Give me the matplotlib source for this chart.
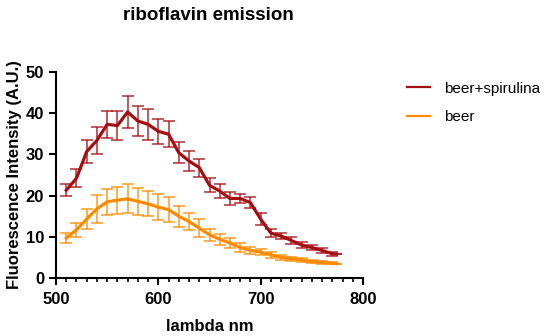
import numpy as np
import matplotlib
matplotlib.use("Agg")
import matplotlib.pyplot as plt
from matplotlib.ticker import MultipleLocator

plt.rcParams['font.family'] = ['Liberation Sans', 'DejaVu Sans']

# wavelengths (nm)
wavelength = [510, 520, 530, 540, 550, 560, 570, 580, 590, 600,
              610, 620, 630, 640, 650, 660, 670, 680, 690, 700,
              710, 720, 730, 740, 750, 760, 770, 774]

# beer + spirulina
spir_mean = [21.3, 24.2, 30.7, 33.4, 37.3, 37.0, 40.3, 38.1, 37.3, 35.6,
             34.9, 30.4, 28.4, 26.8, 22.5, 21.1, 19.3, 19.3, 18.3, 14.3,
             10.9, 10.2, 9.1, 8.0, 7.4, 6.7, 5.9, 5.8]
spir_err = [1.5, 2.2, 2.7, 3.2, 3.3, 3.6, 3.8, 3.7, 3.7, 3.1,
            3.2, 2.6, 2.4, 2.2, 1.7, 1.6, 1.5, 1.1, 1.3, 1.4,
            0.9, 0.8, 0.8, 0.7, 0.6, 0.6, 0.5, 0.0]

# beer
beer_mean = [9.7, 11.7, 14.3, 16.8, 18.5, 18.9, 19.2, 18.6, 18.0, 17.2,
             16.6, 15.0, 13.7, 12.1, 10.5, 9.4, 8.5, 7.4, 6.7, 6.3,
             5.6, 5.0, 4.7, 4.4, 4.0, 3.8, 3.6, 3.5]
beer_err = [1.3, 1.7, 2.5, 3.4, 3.2, 3.3, 3.5, 3.2, 3.0, 3.2,
            3.1, 2.5, 2.1, 2.2, 1.5, 1.4, 1.3, 1.0, 0.9, 0.8,
            0.8, 0.6, 0.5, 0.5, 0.4, 0.3, 0.3, 0.0]

red = '#A50E12'
orange = '#FF8A00'

fig = plt.figure(figsize=(5.5, 3.36), dpi=100)
ax = fig.add_axes([56/550, 1-278/336, (363-56)/550, (278-72)/336])

for mean, err, col, lab in [(spir_mean, spir_err, red, 'beer+spirulina'),
                            (beer_mean, beer_err, orange, 'beer')]:
    ax.errorbar(wavelength, mean, yerr=err, fmt='none', ecolor=col,
                elinewidth=1.2, capsize=4.5, capthick=1.2, alpha=0.8, zorder=2)
    ax.plot(wavelength, mean, color=col, lw=2.3, label=lab, zorder=3)

ax.set_xlim(500, 800)
ax.set_ylim(0, 50)
ax.xaxis.set_major_locator(MultipleLocator(100))
ax.xaxis.set_minor_locator(MultipleLocator(10))
ax.yaxis.set_major_locator(MultipleLocator(10))

for s in ['top', 'right']:
    ax.spines[s].set_visible(False)
for s in ['left', 'bottom']:
    ax.spines[s].set_linewidth(1.5)
ax.tick_params(which='major', length=5, width=1.5, labelsize=12)
ax.tick_params(which='minor', length=3, width=1.2)
ax.tick_params(axis='x', which='major', pad=5)
for lbl in ax.get_xticklabels() + ax.get_yticklabels():
    lbl.set_fontweight('bold')

ax.set_xlabel('lambda nm', fontsize=12, fontweight='bold', labelpad=9)
ax.set_ylabel('Fluorescence Intensity (A.U.)', fontsize=12, fontweight='bold', labelpad=3)
fig.text(208/550, 1-16/336, 'riboflavin emission', fontsize=13.5, fontweight='bold',
         ha='center', va='center')

leg = ax.legend(loc='upper left', bbox_to_anchor=(1.1, 1.02), frameon=False,
                fontsize=11, handlelength=1.5, handletextpad=0.9, labelspacing=0.95)
for h in leg.get_lines():
    h.set_linewidth(1.6)

fig.savefig('out.png', dpi=100)
